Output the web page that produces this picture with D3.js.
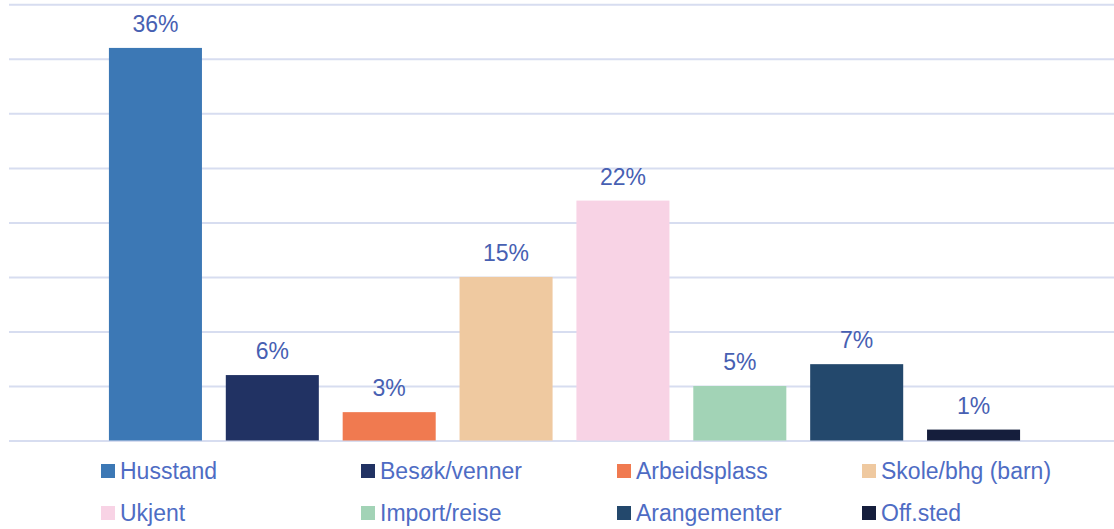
<!DOCTYPE html>
<meta charset="utf-8">
<script src="https://d3js.org/d3.v7.min.js"></script>
<style>
  body { margin: 0; background: #fff; }
  text { font-family: "Liberation Sans", Arial, sans-serif; }
</style>
<body>
<div id="chart"></div>
<script>
  // chart data
  var categories = ["Husstand", "Besøk/venner", "Arbeidsplass", "Skole/bhg (barn)",
                    "Ukjent", "Import/reise", "Arangementer", "Off.sted"];
  var values = [36, 6, 2.6, 15, 22, 5, 7, 1];
  var colors = ["#3C78B5", "#213263", "#F07A50", "#EFC9A0",
                "#F8D3E5", "#A2D3B6", "#23486C", "#151E3C"];
  var yTicks = [0, 5, 10, 15, 20, 25, 30, 35, 40];

  var W = 1114, H = 529;
  var svg = d3.select("#chart").append("svg")
      .attr("width", W)
      .attr("height", H);

  var x = d3.scaleBand()
    .domain(categories)
    .range([97, 1032])
    .paddingInner(0.204)
    .paddingOuter(0.102);

  var y = d3.scaleLinear()
    .domain([0, 40])
    .range([440.5, 4.3]);

  // gridlines
  var grid = svg.append("g")
    .attr("transform", "translate(9,0)")
    .call(d3.axisRight(y).tickValues(yTicks).tickSize(W - 9).tickFormat(""));
  grid.select(".domain").remove();
  grid.selectAll(".tick line")
    .attr("stroke", "#D7DDF0")
    .attr("stroke-width", 2);

  // bars
  svg.selectAll("rect.bar")
    .data(values)
    .enter()
    .append("rect")
      .attr("class", "bar")
      .attr("x", function(d, i) { return x(categories[i]); })
      .attr("y", function(d) { return y(d); })
      .attr("width", x.bandwidth())
      .attr("height", function(d) { return y(0) - y(d); })
      .attr("fill", function(d, i) { return colors[i]; });

  // value labels
  var fmt = d3.format(".0%");
  svg.selectAll("text.lbl")
    .data(values)
    .enter()
    .append("text")
      .attr("class", "lbl")
      .attr("x", function(d, i) { return x(categories[i]) + x.bandwidth() / 2; })
      .attr("y", function(d) { return y(d) - 16; })
      .attr("text-anchor", "middle")
      .attr("font-size", "23px")
      .attr("fill", "#4760B2")
      .text(function(d) { return fmt(d / 100); });

  // legend, 4 columns x 2 rows
  var legendCols = [101, 361, 617, 862];
  var legendRows = [479, 521];
  var leg = svg.selectAll("g.leg")
    .data(categories)
    .enter()
    .append("g")
      .attr("class", "leg")
      .attr("transform", function(d, i) {
        return "translate(" + legendCols[i % 4] + "," + legendRows[Math.floor(i / 4)] + ")";
      });
  leg.append("rect")
    .attr("x", 0)
    .attr("y", -15)
    .attr("width", 14)
    .attr("height", 14)
    .attr("fill", function(d, i) { return colors[i]; });
  leg.append("text")
    .attr("x", 19)
    .attr("y", 0)
    .attr("font-size", "23px")
    .attr("fill", "#4E6CC4")
    .text(function(d) { return d; });
</script>
</body>
